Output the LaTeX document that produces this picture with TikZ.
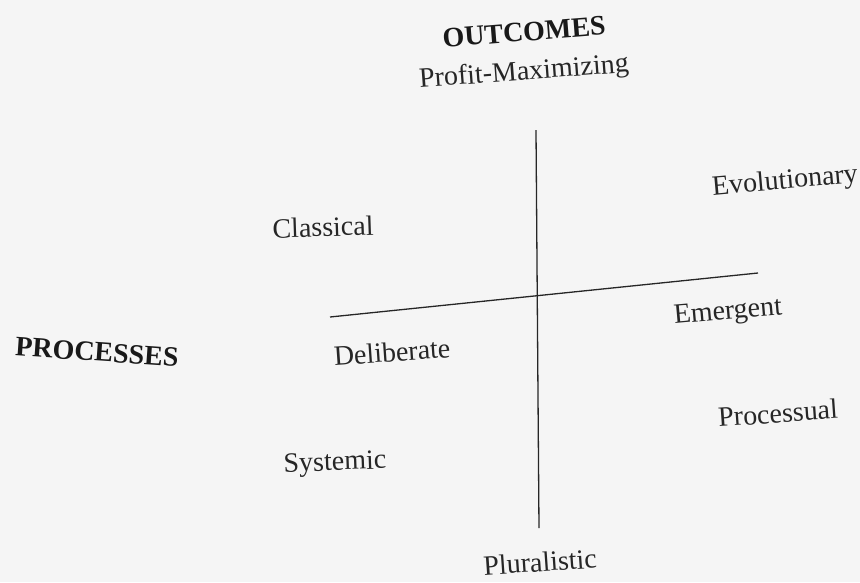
\documentclass[tikz,border=0pt]{standalone}
\usepackage{fontspec}
\setmainfont{Liberation Serif}
\begin{document}
\begin{tikzpicture}[x=1pt,y=-1pt,
  lbl/.style={inner sep=0pt,text=black!85,font=\fontsize{28}{30}\selectfont},
  head/.style={inner sep=0pt,text=black!90,font=\fontsize{28}{30}\selectfont\bfseries},
  axis/.style={draw=black!85,line width=1.3pt}]
\fill[black!4] (0,0) rectangle (860,582);
\useasboundingbox (0,0) rectangle (860,582);
% headings
\node[head,rotate=4.5] (outc) at (524,32) {OUTCOMES};
\node[lbl,rotate=4.3] (profit) at (524,73) {Profit-Maximizing};
\node[head,rotate=-4] (proc) at (97,352) {PROCESSES};
% quadrant labels
\node[lbl,rotate=5] (evol) at (785,182) {Evolutionary};
\node[lbl,rotate=2] (class) at (323,227) {Classical};
\node[lbl,rotate=5] (emer) at (728,313) {Emergent};
\node[lbl,rotate=4] (delib) at (392,352) {Deliberate};
\node[lbl,rotate=4] (procs) at (778,413) {Processual};
\node[lbl,rotate=2] (syst) at (335,464) {Systemic};
\node[lbl,rotate=4] (plur) at (540,562) {Pluralistic};
% axes
\coordinate (vtop) at (536,130);
\coordinate (vbot) at (539,528);
\coordinate (hleft) at (330,317);
\coordinate (hright) at (758,273);
\draw[axis] (vtop) -- (vbot);
\draw[axis] (hleft) -- (hright);
\end{tikzpicture}
\end{document}
